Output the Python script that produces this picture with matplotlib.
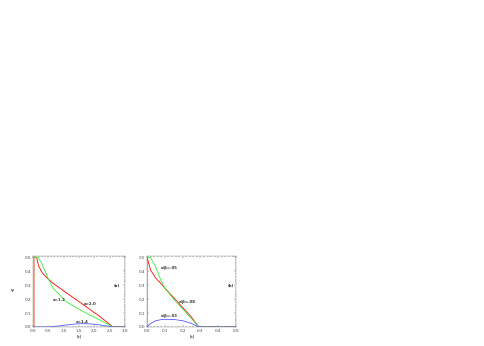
import matplotlib.pyplot as plt
import numpy as np

# panel (a)
xa = [0.0, 0.12, 0.18, 0.3, 0.49, 0.65, 1.09, 1.64, 2.18, 2.6, 3.0]
red_a = [0.5, 0.5, 0.44, 0.39, 0.345, 0.315, 0.245, 0.16, 0.075, 0.0, 0.0]
green_a = [0.5, 0.5, 0.5, 0.45, 0.35, 0.28, 0.18, 0.11, 0.05, 0.0, 0.0]
xb_a = [0.0, 0.5, 0.8, 1.1, 1.4, 1.6, 1.9, 2.2, 2.6, 3.0]
blue_a = [0.0, 0.0, 0.006, 0.015, 0.022, 0.024, 0.022, 0.014, 0.0, 0.0]

# panel (b)
xb = [0.0, 0.005, 0.02, 0.05, 0.08, 0.1, 0.15, 0.2, 0.25, 0.29, 0.5]
red_b = [0.5, 0.48, 0.41, 0.35, 0.31, 0.28, 0.21, 0.14, 0.07, 0.0, 0.0]
green_b = [0.5, 0.5, 0.5, 0.43, 0.33, 0.28, 0.2, 0.13, 0.06, 0.0, 0.0]
blue_b = [0.0, 0.005, 0.025, 0.045, 0.053, 0.055, 0.054, 0.045, 0.025, 0.0, 0.0]

fig = plt.figure(figsize=(4.85, 3.46), dpi=100)
ax1 = fig.add_axes([0.068, 0.055, 0.19, 0.205])
ax2 = fig.add_axes([0.303, 0.055, 0.184, 0.205])

fs = 3
for ax in (ax1, ax2):
    ax.tick_params(direction='in', top=True, right=True, labelsize=fs, length=1.5, width=0.3, pad=1.5, colors='#444444')
    ax.tick_params(which='minor', direction='in', top=True, right=True, length=0.8, width=0.3)
    ax.minorticks_on()
    for s in ax.spines.values():
        s.set_linewidth(0.3)
        s.set_color('#888888')
    ax.set_ylim(0, 0.51)
    ax.set_yticks([0.0, 0.1, 0.2, 0.3, 0.4, 0.5])
    ax.set_xlabel('|k|', fontsize=fs, labelpad=1)

ax1.plot([0.02, 0.02], [0, 0.5], color='#f0906a', lw=1.1)
ax1.plot(xa, red_a, color='red', lw=0.6)
ax1.plot(xa, green_a, color='#33ee33', lw=0.6)
ax1.plot(xb_a, blue_a, color='#5555ff', lw=0.6)
ax1.set_xlim(0, 3.0)
ax1.set_xticks([0.0, 0.5, 1.0, 1.5, 2.0, 2.5, 3.0])
ax1.set_ylabel('ψ', fontsize=fs, rotation=0, labelpad=9)
ax1.text(0.65, 0.19, 'α=1.2', fontsize=2.8, fontweight='bold', color='#333333')
ax1.text(1.65, 0.16, 'α=2.0', fontsize=2.8, fontweight='bold', color='#333333')
ax1.text(1.4, 0.03, 'α=1.4', fontsize=2.8, fontweight='bold', color='#333333')
ax1.text(2.62, 0.29, '(a)', fontsize=2.8, fontweight='bold', color='#333333')

ax2.plot([0.003, 0.003], [0, 0.5], color='#f0906a', lw=1.1)
ax2.plot(xb, red_b, color='red', lw=0.6)
ax2.plot(xb, green_b, color='#33ee33', lw=0.6)
ax2.plot(xb, blue_b, color='#5555ff', lw=0.6)
ax2.set_xlim(0, 0.5)
ax2.set_xticks([0.0, 0.1, 0.2, 0.3, 0.4, 0.5])
ax2.text(0.075, 0.42, 'α/β=.05', fontsize=2.8, fontweight='bold', color='#333333')
ax2.text(0.18, 0.17, 'α/β=.08', fontsize=2.8, fontweight='bold', color='#333333')
ax2.text(0.075, 0.07, 'α/β=.03', fontsize=2.8, fontweight='bold', color='#333333')
ax2.text(0.45, 0.29, '(b)', fontsize=2.8, fontweight='bold', color='#333333')

fig.savefig('out.png', dpi=100)
